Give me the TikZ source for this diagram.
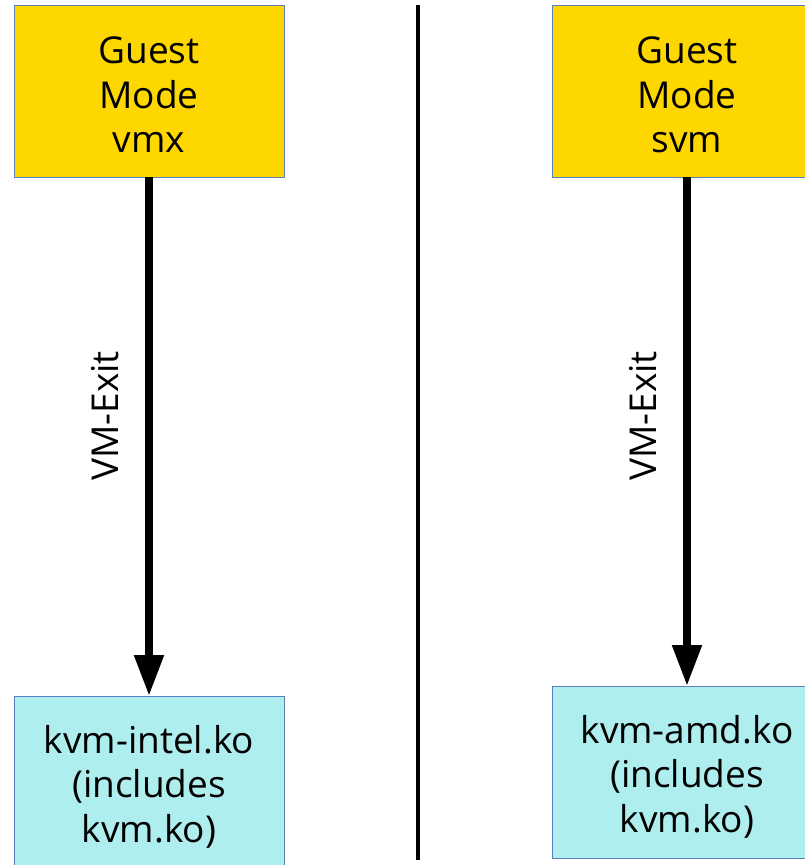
\documentclass[tikz,border=0pt]{standalone}
\usepackage{fontspec}
\setmainfont{Open Sans}
\usetikzlibrary{arrows.meta}
\definecolor{guest}{HTML}{FFD700}
\definecolor{kmod}{HTML}{AFEEEE}
\definecolor{edge}{HTML}{5A7FC0}
\tikzset{
  box/.style={draw=edge, line width=0.9pt, minimum width=270pt, minimum height=172pt,
    inner sep=0pt},
  boxtext/.style={align=center, inner sep=0pt, yshift=-4pt, font=\fontsize{37pt}{44.5pt}\selectfont},
  guestbox/.style={box, fill=guest},
  kmodbox/.style={box, fill=kmod},
  exitarrow/.style={line width=8pt, -{Triangle[length=41pt,width=28pt]}},
  exitlabel/.style={rotate=90, font=\fontsize{37pt}{44.5pt}\selectfont, inner sep=0pt},
}
\begin{document}
\begin{tikzpicture}[x=1pt,y=-1pt]
\useasboundingbox (0,0) rectangle (805,865);
\clip (0,0) rectangle (805,865);
\node[guestbox, label={[boxtext]center:Guest\\Mode\\vmx}] (gl) at (149,91) {};
\node[guestbox, label={[boxtext]center:Guest\\Mode\\svm}] (gr) at (687,91) {};
\node[kmodbox, label={[boxtext]center:kvm-intel.ko\\(includes\\kvm.ko)}] (kl) at (149,782.5) {};
\node[kmodbox, label={[boxtext]center:kvm-amd.ko\\(includes\\kvm.ko)}] (kr) at (687,772.5) {};
\draw[exitarrow] (gl.south) -- (kl.north);
\draw[exitarrow] (gr.south) -- (kr.north);
\node[exitlabel] (ll) at (105,416) {VM-Exit};
\node[exitlabel] (lr) at (643,416) {VM-Exit};
\coordinate (dtop) at (418,5);
\coordinate (dbot) at (418,860);
\draw[line width=4pt] (dtop) -- (dbot);
\end{tikzpicture}
\end{document}
